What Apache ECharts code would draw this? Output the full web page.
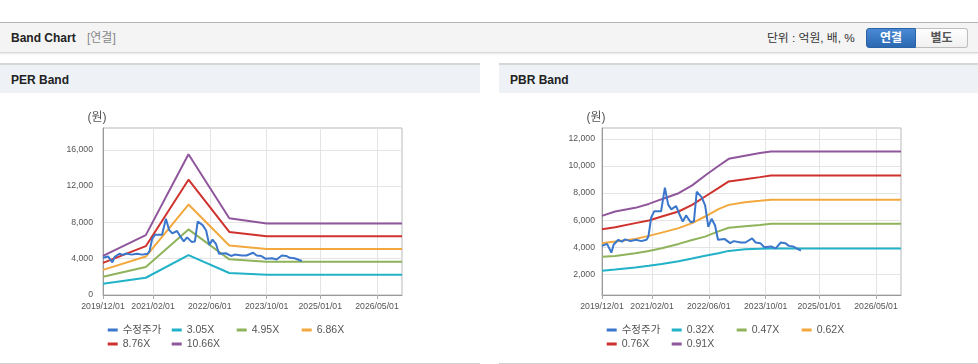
<!DOCTYPE html>
<html>
<head>
<meta charset="utf-8">
<script src="https://cdn.jsdelivr.net/npm/echarts@6/dist/echarts.min.js"></script>
<style>
html,body{margin:0;padding:0;width:978px;height:364px;overflow:hidden;background:#fff;font-family:"Liberation Sans","Noto Sans CJK KR",sans-serif;}
#hdr{position:absolute;left:0;top:22px;width:978px;height:29px;background:#f4f4f4;border-top:1px solid #b4b4b4;border-bottom:1px solid #d8d8d8;box-shadow:0 1px 2px rgba(0,0,0,0.10);}
.t{position:absolute;white-space:nowrap;}
#ttl{left:11px;top:8px;font-size:12px;font-weight:bold;color:#222;line-height:14px;}
#sub{left:87px;top:8px;font-size:12px;color:#888;line-height:14px;}
#unit{left:767px;top:8px;font-size:11.8px;color:#333;line-height:14px;}
#b1{position:absolute;left:866px;top:5px;width:50px;height:20px;background:linear-gradient(#4a89d4,#2b68b2);border:1px solid #2a62a6;border-radius:3px 0 0 3px;color:#fff;font-weight:bold;font-size:12px;line-height:18px;text-align:center;box-sizing:border-box;}
#b2{position:absolute;left:916px;top:5px;width:52px;height:20px;background:linear-gradient(#fff,#f0f0f0);border:1px solid #bdbdbd;border-left:none;border-radius:0 3px 3px 0;color:#555;font-weight:bold;font-size:12px;line-height:18px;text-align:center;box-sizing:border-box;}
.panel{position:absolute;top:63px;height:298px;border-top:2px solid #d6d6d6;border-bottom:1px solid #d0d0d0;}
.ptitle{height:28px;background:#eef2f7;font-size:12px;font-weight:bold;color:#222;padding-left:11px;line-height:30px;}
#chart{position:absolute;left:0;top:0;width:978px;height:364px;z-index:2;}
</style>
</head>
<body>
<div id="hdr">
  <div class="t" id="ttl">Band Chart</div>
  <div class="t" id="sub">[연결]</div>
  <div class="t" id="unit">단위 : 억원, 배, %</div>
  <div id="b1">연결</div>
  <div id="b2">별도</div>
</div>
<div class="panel" style="left:0;width:480px;"><div class="ptitle">PER Band</div></div>
<div class="panel" style="left:499px;width:479px;"><div class="ptitle">PBR Band</div></div>
<div id="chart"></div>
<script>
// ---------- data ----------
const xTickDates = ['2019/12/01','2021/02/01','2022/06/01','2023/10/01','2025/01/01','2026/05/01'];
const xRange = ['2019/12/01','2026/12/01'];
const perTicks = [0,4000,8000,12000,16000];
const perRange = [0,18400];
const pbrTicks = [2000,4000,6000,8000,10000,12000];
const pbrRange = [470,12810];
const unitLabel = '(원)';

const priceDates = ['2019/12/01','2020/01/13','2020/02/19','2020/03/10','2020/04/19','2020/05/19','2020/06/16','2020/08/01','2020/09/16','2020/11/01','2020/12/16','2021/01/01','2021/01/25','2021/02/19','2021/04/19','2021/05/22','2021/06/19','2021/07/16','2021/08/25','2021/09/25','2021/10/22','2021/11/19','2021/12/28','2022/01/25','2022/02/18','2022/04/01','2022/05/01','2022/05/28','2022/06/25','2022/07/25','2022/08/19','2022/10/16','2022/12/01','2023/01/01','2023/03/01','2023/04/10','2023/06/07','2023/07/07','2023/08/16','2023/09/19','2023/11/16','2023/12/25','2024/02/07','2024/03/16','2024/04/16','2024/05/25','2024/07/28'];
const priceValues = [4100,4250,3600,4200,4550,4420,4580,4450,4550,4450,4550,4800,6200,6650,6650,8400,7150,6800,7050,6400,5900,6350,5850,5900,8100,7700,7100,5500,6100,5600,4550,4600,4300,4450,4350,4350,4650,4350,4300,4000,4050,3920,4350,4300,4100,4050,3750];

const perBandDates = ['2019/12/01','2020/12/01','2021/12/01','2022/11/15','2023/10/01','2026/12/01'];
const perBand305 = [1240,1900,4400,2420,2240,2240];
const perBand495 = [2000,3090,7230,3930,3660,3660];
const perBand686 = [2770,4240,9970,5450,5070,5070];
const perBand876 = [3540,5380,12700,6950,6480,6480];
const perBand1066 = [4300,6600,15500,8460,7880,7870];

const pbrBandDates = ['2019/12/01','2020/03/22','2020/09/11','2021/01/04','2021/04/25','2021/09/16','2022/01/10','2022/05/01','2022/08/22','2022/11/19','2023/04/07','2023/08/13','2023/11/15','2026/12/01'];
const pbrBand032 = [2270,2355,2505,2630,2765,2965,3160,3370,3560,3730,3850,3890,3910,3910];
const pbrBand047 = [3300,3355,3555,3725,3925,4245,4540,4785,5170,5440,5550,5650,5740,5740];
const pbrBand062 = [4300,4415,4615,4840,5080,5410,5780,6270,6815,7130,7330,7430,7510,7510];
const pbrBand076 = [5330,5480,5780,5970,6270,6640,7130,7750,8370,8860,9020,9180,9300,9300];
const pbrBand091 = [6320,6640,6910,7200,7550,7990,8570,9300,10000,10530,10760,10960,11070,11070];

const perNames = ['수정주가','3.05X','4.95X','6.86X','8.76X','10.66X'];
const pbrNames = ['수정주가','0.32X','0.47X','0.62X','0.76X','0.91X'];
const colors = ['#3a77cc','#21b2c8','#8fb35a','#f2a83c','#cf322d','#8f569c'];

// ---------- build ----------
function ts(s){const p=s.split('/').map(Number);return Date.UTC(p[0],p[1]-1,p[2]);}
function pairs(dates,vals){return dates.map((d,i)=>[ts(d),vals[i]]);}
function pad(n){return n<10?'0'+n:''+n;}
function fmtDate(v){const d=new Date(Number(v));return d.getUTCFullYear()+'/'+pad(d.getUTCMonth()+1)+'/'+pad(d.getUTCDate());}

const FONT = "'Liberation Sans','Noto Sans CJK KR',sans-serif";
const grids = [
  {left:103,top:128,width:299,height:167,show:true,borderColor:'#b9b9b9',borderWidth:1,backgroundColor:'transparent'},
  {left:602,top:128,width:299,height:167,show:true,borderColor:'#b9b9b9',borderWidth:1,backgroundColor:'transparent'}
];
function xAxis(gi){
  const tv = xTickDates.map(ts);
  return {type:'value',gridIndex:gi,min:ts(xRange[0]),max:ts(xRange[1]),scale:true,
    axisLine:{show:true,onZero:false,lineStyle:{color:'#999'}},
    axisTick:{show:true,length:4,lineStyle:{color:'#aaa'},customValues:tv},
    axisLabel:{customValues:tv,formatter:function(v){return fmtDate(v);},color:'#555',fontSize:8.7,fontFamily:FONT,margin:7,hideOverlap:false,showMinLabel:true,showMaxLabel:true},
    splitLine:{show:true,lineStyle:{color:'#e4e4e4',width:1}}
  };
}
function yAxis(gi,range,ticks,margin){
  return {type:'value',gridIndex:gi,min:range[0],max:range[1],
    name:unitLabel,nameLocation:'end',nameGap:4,
    nameTextStyle:{color:'#555',fontSize:12,fontFamily:FONT,align:'center',padding:[0,12,0,0]},
    axisLine:{show:true,lineStyle:{color:'#999'}},
    axisTick:{show:false,customValues:ticks},
    axisLabel:{customValues:ticks,color:'#555',fontSize:8.7,fontFamily:FONT,margin:margin,
      formatter:function(v){return Number(v).toLocaleString('en-US');}},
    splitLine:{show:true,lineStyle:{color:'#e4e4e4',width:1}}
  };
}
function line(name,data,color,gi,z){
  return {type:'line',name:name,data:data,xAxisIndex:gi,yAxisIndex:gi,symbol:'none',showSymbol:false,
    lineStyle:{color:color,width:2},itemStyle:{color:color},z:z,animation:false,silent:true};
}
const series = [];
const perBands = [perBand305,perBand495,perBand686,perBand876,perBand1066];
const pbrBands = [pbrBand032,pbrBand047,pbrBand062,pbrBand076,pbrBand091];
perBands.forEach((b,i)=>series.push(line(perNames[i+1],pairs(perBandDates,b),colors[i+1],0,2)));
series.push(line(perNames[0],pairs(priceDates,priceValues),colors[0],0,3));
pbrBands.forEach((b,i)=>series.push(line(pbrNames[i+1],pairs(pbrBandDates,b),colors[i+1],1,2)));
series.push(line(pbrNames[0],pairs(priceDates,priceValues),colors[0],1,3));

function legend(names,left){
  return {data:names,left:left,top:324,orient:'vertical',padding:0,itemGap:2,
    icon:'rect',itemWidth:10,itemHeight:3,selectedMode:false,
    textStyle:{color:'#555',fontSize:10.5,fontFamily:FONT,lineHeight:12}};
}
const legends = [
  legend([perNames[0],perNames[4]],107.7),
  legend([perNames[1],perNames[5]],171.7),
  legend([perNames[2]],236.7),
  legend([perNames[3]],301.7),
  legend([pbrNames[0],pbrNames[4]],606.7),
  legend([pbrNames[1],pbrNames[5]],671.7),
  legend([pbrNames[2]],736.7),
  legend([pbrNames[3]],801.7)
];

const chart = echarts.init(document.getElementById('chart'),null,{renderer:'canvas'});
chart.setOption({
  animation:false,
  backgroundColor:'transparent',
  textStyle:{fontFamily:FONT},
  grid:grids,
  xAxis:[xAxis(0),xAxis(1)],
  yAxis:[yAxis(0,perRange,perTicks,10),yAxis(1,pbrRange,pbrTicks,7)],
  legend:legends,
  series:series
});
</script>
</body>
</html>
